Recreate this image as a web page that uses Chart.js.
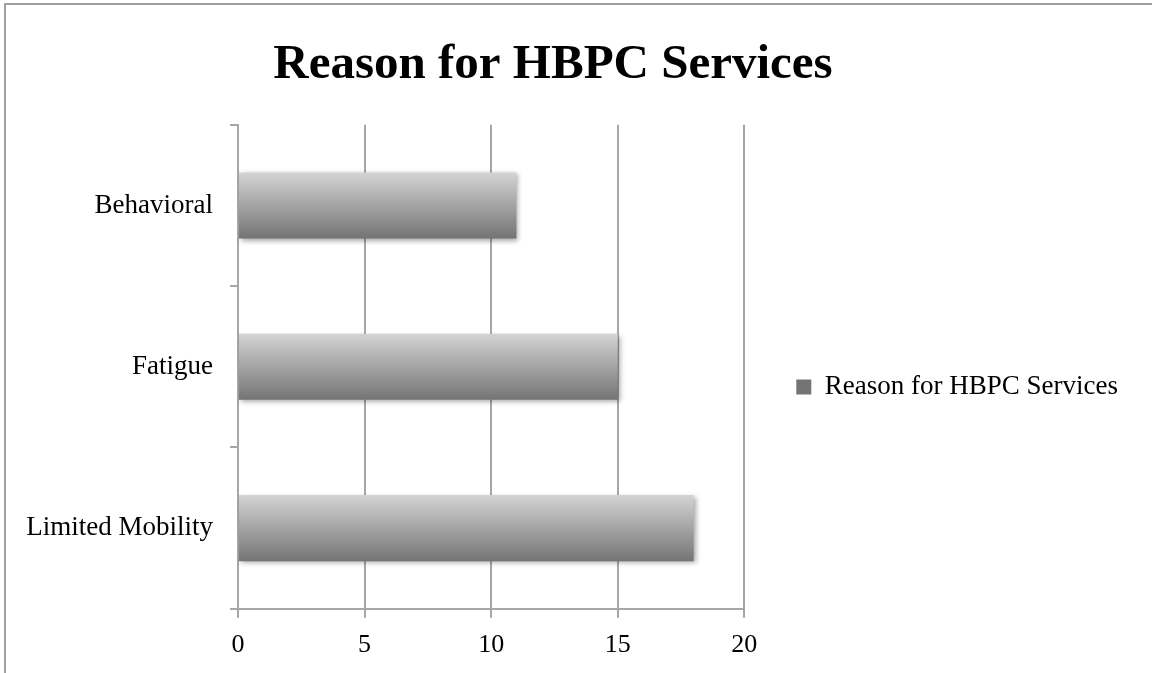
<!DOCTYPE html>
<html>
<head>
<meta charset="utf-8">
<title>Reason for HBPC Services</title>
<script src="https://cdn.jsdelivr.net/npm/chart.js@4.4.1/dist/chart.umd.min.js"></script>
<style>
    html, body { margin: 0; padding: 0; background: #ffffff; overflow: hidden; }
    body { width: 1152px; height: 673px; position: relative; }
    #frame {
        position: absolute; left: 4px; top: 3px; width: 1200px; height: 720px;
        border-top: 2px solid #a0a0a0; border-left: 2px solid #a0a0a0;
    }
    #holder { position: absolute; left: -22px; top: 0; width: 1150px; height: 673px; }
</style>
</head>
<body>
<div id="frame"></div>
<div id="holder"><canvas id="categoryChart"></canvas></div>

<script>

// --------------------------------------------------------------------------
//
//                            data
//
// --------------------------------------------------------------------------

const categories = ['Behavioral', 'Fatigue', 'Limited Mobility'];
const counts = [11, 15, 18];
const seriesName = 'Reason for HBPC Services';
const xMin = 0;
const xMax = 20;
const xStep = 5;

// --------------------------------------------------------------------------
//
//                            display chart
//
// --------------------------------------------------------------------------

const BAR_PCT = 0.41;
const AXIS_GREY = '#a6a6a6';
const FONT = "'Liberation Serif', 'Times New Roman', serif";

function barGradient(context) {
    const chart = context.chart;
    const yScale = chart.scales.y;
    if (context.dataIndex === undefined || !yScale || !chart.chartArea) {
        return '#a9a9a9';
    }
    const mid = yScale.getPixelForValue(context.dataIndex);
    const half = yScale.height / categories.length * BAR_PCT / 2;
    const g = chart.ctx.createLinearGradient(0, mid - half, 0, mid + half);
    g.addColorStop(0, '#d4d4d4');
    g.addColorStop(1, '#747474');
    return g;
}

// soft drop shadow behind the bars
const barShadow = {
    id: 'barShadow',
    beforeDatasetsDraw(chart) {
        const ctx = chart.ctx;
        ctx.save();
        ctx.shadowColor = 'rgba(0, 0, 0, 0.35)';
        ctx.shadowBlur = 5;
        ctx.shadowOffsetX = 2;
        ctx.shadowOffsetY = 2;
    },
    afterDatasetsDraw(chart) {
        chart.ctx.restore();
    }
};

function displayBarChart() {

    const ctx = document.getElementById('categoryChart').getContext('2d');

    const chartData = {
        labels: categories,
        datasets: [{
            label: seriesName,
            data: counts,
            backgroundColor: barGradient,
            borderWidth: 0,
            barPercentage: BAR_PCT,
            categoryPercentage: 1
        }]
    };

    const options = {
        indexAxis: 'y',
        responsive: true,
        maintainAspectRatio: false,
        animation: false,
        layout: {
            padding: { top: 0, right: 0, bottom: 0, left: 0 }
        },
        plugins: {
            title: {
                display: true,
                text: seriesName,
                color: '#000000',
                font: { family: FONT, size: 49, weight: 'bold' },
                padding: { top: 36, bottom: 30 }
            },
            legend: {
                position: 'right',
                fullSize: false,
                maxWidth: 420,
                title: {
                    display: true,
                    text: '',
                    font: { size: 1 },
                    padding: { top: 39, bottom: 0 }
                },
                labels: {
                    color: '#000000',
                    font: { family: FONT, size: 27 },
                    boxWidth: 15,
                    boxHeight: 15,
                    padding: 52
                }
            },
            tooltip: { enabled: false }
        },
        scales: {
            x: {
                min: xMin,
                max: xMax,
                ticks: {
                    stepSize: xStep,
                    color: '#000000',
                    font: { family: FONT, size: 26 },
                    padding: 12
                },
                grid: {
                    color: AXIS_GREY,
                    lineWidth: 2,
                    tickLength: 9
                },
                border: { color: AXIS_GREY, width: 2 }
            },
            y: {
                afterFit: (scale) => { scale.width = 260; },
                ticks: {
                    color: '#000000',
                    font: { family: FONT, size: 27 },
                    padding: 17
                },
                grid: {
                    drawOnChartArea: false,
                    color: AXIS_GREY,
                    lineWidth: 2,
                    tickLength: 8
                },
                border: { color: AXIS_GREY, width: 2 }
            }
        }
    };

    window.categoryChart = new Chart(ctx, {
        type: 'bar',
        data: chartData,
        options: options,
        plugins: [barShadow]
    });
}

displayBarChart();

</script>
</body>
</html>
